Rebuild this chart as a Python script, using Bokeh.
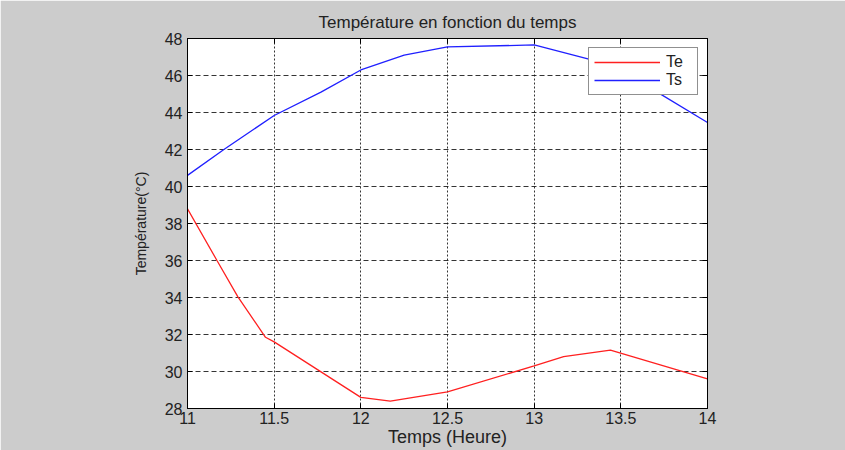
from bokeh.plotting import figure
from bokeh.models import FixedTicker, LinearAxis, Legend, LegendItem, Range1d
from bokeh.embed import file_html
from bokeh.resources import INLINE

# Data
te_x = [11.0, 11.17, 11.29, 11.45, 11.5, 11.75, 12.0, 12.17, 12.5, 13.0, 13.17, 13.44, 14.0]
te_y = [38.8, 36.0, 34.05, 31.85, 31.6, 30.1, 28.6, 28.4, 28.9, 30.3, 30.8, 31.15, 29.6]
ts_x = [11.0, 11.21, 11.5, 11.77, 12.0, 12.25, 12.5, 13.0, 13.31, 13.5, 13.71, 14.0]
ts_y = [40.6, 42.0, 43.84, 45.1, 46.3, 47.1, 47.55, 47.65, 46.9, 46.05, 45.1, 43.46]
x_ticks = [11, 11.5, 12, 12.5, 13, 13.5, 14]
y_ticks = [28, 30, 32, 34, 36, 38, 40, 42, 44, 46, 48]

FONT = "Liberation Sans"
GRAY = "#cccccc"
TXT = "#222222"

p = figure(width=845, height=450, output_backend="svg", toolbar_location=None,
           x_range=Range1d(11, 14), y_range=Range1d(28, 48),
           min_border_left=187, min_border_right=138, min_border_top=38, min_border_bottom=42,
           background_fill_color="white", border_fill_color=GRAY,
           outline_line_color="black", outline_line_width=1)

p.title.text = "Température en fonction du temps"
p.title.align = "center"
p.title.text_font = FONT
p.title.text_font_size = "17px"
p.title.text_font_style = "normal"
p.title.text_color = TXT
p.title.standoff = 14

lx = {t: ("%g" % t) for t in x_ticks}
ly = {t: ("%g" % t) for t in y_ticks}

for ax, ticks, labels in ((p.xaxis[0], x_ticks, lx), (p.yaxis[0], y_ticks, ly)):
    ax.ticker = FixedTicker(ticks=ticks)
    ax.major_label_overrides = labels
    ax.major_tick_in = 5
    ax.major_tick_out = 0
    ax.minor_tick_line_color = None
    ax.axis_line_color = "black"
    ax.major_tick_line_color = "black"
    ax.major_label_text_font = FONT
    ax.major_label_text_font_size = "16px"
    ax.major_label_text_color = TXT
    ax.axis_label_text_font = FONT
    ax.axis_label_text_font_style = "normal"
    ax.axis_label_text_color = TXT

p.xaxis[0].axis_label = "Temps (Heure)"
p.xaxis[0].axis_label_text_font_size = "18px"
p.xaxis[0].major_label_standoff = 3
p.xaxis[0].axis_label_standoff = 0
p.yaxis[0].axis_label = "Température(°C)"
p.yaxis[0].axis_label_text_font_size = "14px"
p.yaxis[0].major_label_standoff = 5
p.yaxis[0].axis_label_standoff = 13

# Box ticks on top and right (no labels)
top = LinearAxis(ticker=FixedTicker(ticks=x_ticks), major_tick_in=5, major_tick_out=0,
                 minor_tick_line_color=None, major_label_text_color=None,
                 major_label_text_font_size="1px",
                 axis_line_color="black", major_label_standoff=0)
right = LinearAxis(ticker=FixedTicker(ticks=y_ticks), major_tick_in=5, major_tick_out=0,
                   minor_tick_line_color=None, major_label_text_color=None,
                   major_label_text_font_size="1px",
                   axis_line_color="black", major_label_standoff=0)
p.add_layout(top, "above")
p.add_layout(right, "right")

p.xgrid.ticker = FixedTicker(ticks=x_ticks)
p.ygrid.ticker = FixedTicker(ticks=y_ticks)
p.xgrid.grid_line_color = "#111111"
p.xgrid.grid_line_dash = "2 2"
p.xgrid.grid_line_width = 1
p.ygrid.grid_line_color = "#111111"
p.ygrid.grid_line_dash = "5 3"
p.ygrid.grid_line_width = 1
p.xgrid.grid_line_alpha = 0.85
p.ygrid.grid_line_alpha = 0.85

r_te = p.line(te_x, te_y, line_color="#ff2020", line_width=1.3)
r_ts = p.line(ts_x, ts_y, line_color="#2020ff", line_width=1.3)

legend = Legend(items=[LegendItem(label="Te", renderers=[r_te]),
                       LegendItem(label="Ts", renderers=[r_ts])],
                location="top_right", margin=9, padding=5, spacing=0,
                glyph_width=66, glyph_height=16, label_standoff=6, label_width=26,
                label_height=16,
                label_text_font=FONT, label_text_font_size="16px",
                label_text_color=TXT,
                border_line_color="#222222", border_line_width=1,
                background_fill_color="white", background_fill_alpha=1)
p.add_layout(legend)

open("out.html", "w").write(file_html(p, INLINE))
